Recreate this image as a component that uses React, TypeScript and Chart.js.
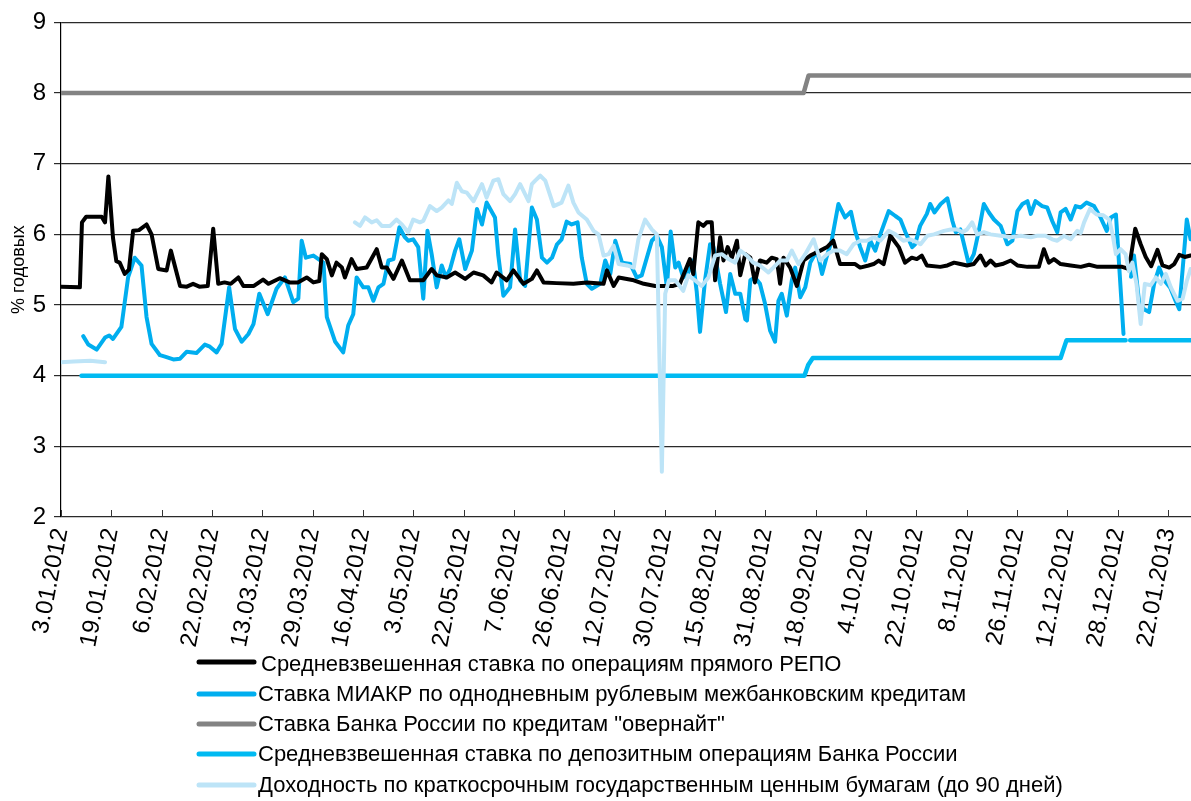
import React, { useEffect, useRef } from 'react';
import { Chart, registerables } from 'chart.js';
Chart.register(...registerables);

// X axis: trading-day index; a labelled tick every 12 trading days
const tickLabels = [
  '3.01.2012', '19.01.2012', '6.02.2012', '22.02.2012', '13.03.2012', '29.03.2012',
  '16.04.2012', '3.05.2012', '22.05.2012', '7.06.2012', '26.06.2012', '12.07.2012',
  '30.07.2012', '15.08.2012', '31.08.2012', '18.09.2012', '4.10.2012', '22.10.2012',
  '8.11.2012', '26.11.2012', '12.12.2012', '28.12.2012', '22.01.2013',
];
const TICK_STEP = 12;
const X_MAX = 269.5;

const seriesLabels = [
  'Средневзвешенная ставка по операциям прямого РЕПО',
  'Ставка МИАКР по однодневным рублевым межбанковским кредитам',
  'Ставка Банка России по кредитам "овернайт"',
  'Средневзвешенная ставка по депозитным операциям Банка России',
  'Доходность по краткосрочным государственным ценным бумагам (до 90 дней)',
];
const seriesColors = ['#000000', '#00AEEF', '#838383', '#00BAF2', '#BDE4F7'];
const seriesWidths = [4, 4, 4.5, 4.5, 4];

type P = [number, number | null];

const repo: P[] = [
  [0,5.26],[4.5,5.25],[5,6.17],[6,6.25],[9.7,6.25],[10.5,6.17],[11.3,6.82],[12.4,5.95],[13.2,5.62],[14,5.6],
  [15.2,5.44],[16.2,5.5],[17.2,6.05],[18.6,6.06],[20.4,6.14],[21.6,6.0],[23.2,5.51],[25.2,5.49],[26.2,5.77],[28.4,5.27],
  [30,5.26],[31.5,5.3],[33,5.26],[35,5.27],[36.3,6.08],[37.5,5.3],[39,5.32],[40.5,5.3],[42.3,5.39],[43.5,5.27],
  [46,5.27],[48.2,5.36],[49.5,5.3],[52.2,5.38],[54.5,5.32],[56.5,5.32],[58.6,5.39],[60.2,5.32],[61.6,5.34],[62.2,5.72],
  [63.4,5.65],[64.6,5.42],[65.7,5.6],[67,5.53],[67.7,5.39],[69.3,5.65],[70.5,5.51],[72.9,5.53],[75.3,5.79],[76.5,5.53],
  [77.7,5.53],[79.3,5.37],[81.3,5.63],[83.2,5.35],[86.4,5.35],[88.4,5.51],[89.6,5.42],[92,5.39],[94,5.46],[96.4,5.37],
  [98.4,5.46],[100.7,5.42],[102.7,5.32],[103.9,5.46],[106.3,5.35],[107.9,5.49],[110.3,5.3],[112.3,5.37],[113.5,5.49],[115.1,5.32],
  [118.2,5.31],[122.2,5.3],[125.4,5.32],[129.4,5.3],[130.2,5.49],[131.8,5.27],[133,5.39],[136.6,5.35],[139,5.3],[141.7,5.27],
  [143.3,5.27],[146,5.27],[147.6,5.3],[150,5.65],[150.8,5.44],[152,6.17],[153.2,6.12],[154,6.17],[155.2,6.17],[156,5.35],
  [157.2,5.96],[158,5.63],[159,5.82],[160,5.67],[161.2,5.91],[162,5.42],[163.2,5.72],[164.4,5.67],[165.5,5.32],[166.7,5.63],
  [168.3,5.6],[169.5,5.67],[170.7,5.65],[171.5,5.3],[172.3,5.67],[173.9,5.53],[175.5,5.27],[177.1,5.63],[178.7,5.7],[181.1,5.77],
  [182.7,5.82],[184.2,5.91],[185.8,5.58],[187.4,5.58],[189.4,5.58],[190.6,5.53],[192.6,5.56],[193.8,5.58],[195,5.63],[196.2,5.58],
  [197.8,5.98],[199.8,5.82],[201.3,5.6],[202.9,5.67],[204.1,5.65],[205.3,5.7],[206.5,5.56],[209.7,5.54],[211.4,5.56],[213,5.6],
  [214.5,5.58],[216.1,5.56],[217.7,5.58],[219.3,5.7],[220.5,5.56],[221.7,5.63],[222.9,5.56],[224.5,5.58],[226.5,5.63],[228.1,5.56],
  [230.5,5.54],[233.2,5.54],[234.4,5.79],[235.6,5.6],[236.8,5.65],[238.4,5.58],[240.8,5.56],[243.2,5.54],[245.2,5.57],[247.2,5.54],
  [251.5,5.54],[253.1,5.54],[254.7,5.51],[256.2,6.08],[257.5,5.86],[258.7,5.68],[260,5.55],[261.5,5.78],[262.7,5.56],[264.3,5.53],
  [265.5,5.58],[266.7,5.71],[268,5.68],[269.4,5.7],
];

const miacr: P[] = [
  [5.3,4.56],[6.5,4.44],[8.5,4.37],[10.5,4.54],[11.5,4.57],[12.4,4.52],[14.4,4.69],[16,5.39],[17.6,5.67],[19.2,5.56],
  [20.4,4.83],[21.6,4.45],[23.6,4.29],[24.8,4.27],[26.8,4.23],[28.4,4.24],[30,4.34],[32.3,4.32],[34.3,4.44],[35.5,4.41],
  [37.1,4.33],[38.3,4.45],[40.1,5.25],[41.5,4.66],[43.1,4.48],[44.7,4.59],[45.9,4.73],[47.3,5.16],[49.3,4.87],[51.4,5.23],
  [53.4,5.39],[55.4,5.04],[56.6,5.09],[57.4,5.91],[58.4,5.67],[60.2,5.7],[62.6,5.6],[63.4,4.83],[65.4,4.48],[67.3,4.33],
  [68.5,4.71],[69.7,4.87],[70.5,5.39],[72.1,5.25],[73.3,5.25],[74.5,5.06],[75.7,5.25],[76.9,5.3],[78.1,5.63],[79.3,5.65],
  [80.7,6.1],[82,5.96],[82.8,5.91],[84,5.93],[85.2,5.82],[86.4,5.09],[87.4,6.05],[88.4,5.72],[89.6,5.25],[90.8,5.56],
  [91.8,5.39],[92.8,5.51],[94,5.77],[95,5.93],[96.4,5.51],[98,5.77],[99.2,6.36],[100.4,6.14],[101.5,6.45],[103.5,6.24],
  [104.3,5.7],[105.5,5.13],[107.1,5.25],[108.3,6.07],[109.5,5.35],[110.7,5.27],[112.3,6.38],[113.5,6.21],[114.7,5.67],[115.9,5.6],
  [117.1,5.67],[118.3,5.86],[119.4,5.93],[120.6,6.18],[121.8,6.14],[123.2,6.17],[124.2,5.67],[125.4,5.3],[126.6,5.23],[128.6,5.3],
  [129.8,5.63],[131,5.44],[132.2,5.91],[133.8,5.6],[135.8,5.58],[137.3,5.39],[138.5,5.42],[140.9,5.91],[142.1,5.98],[143.3,5.82],
  [144.5,5.25],[145.4,6.04],[146.5,5.53],[147.3,5.6],[148.4,5.39],[149.6,5.46],[150.7,5.63],[151.6,5.2],[152.4,4.62],[153.6,5.35],
  [154.8,5.86],[155.6,5.82],[157.2,5.3],[158.6,4.9],[159.6,5.44],[160.8,5.16],[162,5.16],[163.2,4.8],[163.6,4.78],[164.4,5.35],
  [165.5,5.39],[166.7,5.3],[167.9,5.02],[169.1,4.64],[170.3,4.48],[171.1,5.06],[171.9,5.16],[173.1,4.85],[174.3,5.35],[175.1,5.53],
  [176.3,5.11],[177.5,5.25],[178.7,5.6],[180.3,5.77],[181.5,5.44],[182.7,5.7],[183.8,5.91],[185.4,6.43],[187,6.24],[188.4,6.32],
  [189.4,6.05],[190.6,5.82],[191.8,5.63],[193,5.91],[194.2,5.77],[195.4,6.0],[197.4,6.33],[199,6.26],[200.2,6.21],[201.4,6.03],
  [203,5.82],[203.7,5.86],[204.9,6.12],[206.5,6.29],[207.3,6.43],[208.3,6.31],[209.8,6.43],[211.4,6.51],[212.6,6.19],[213.4,6.03],
  [214.5,6.07],[216.5,5.58],[217.7,5.72],[218.9,6.05],[220.1,6.43],[221.3,6.31],[222.5,6.21],[224.1,6.12],[225.7,5.86],[226.9,5.91],
  [228.1,6.33],[229.3,6.43],[230.5,6.47],[231.3,6.29],[232.4,6.47],[234,6.4],[235.2,6.38],[236.4,6.19],[237.6,6.03],[238.4,6.31],
  [239.6,6.36],[240.8,6.21],[242,6.4],[243.2,6.38],[244.6,6.45],[246.4,6.4],[248,6.23],[249.4,6.05],[250.4,6.24],[251.6,6.28],
  [252.4,5.53],[253.4,4.59],[254.3,null],[255.2,5.4],[255.9,5.7],[257.1,5.05],[258.3,4.94],[259.5,4.9],[260.7,5.3],[261.9,5.53],
  [263.1,5.35],[264.5,5.25],[265.8,5.06],[266.7,4.94],[267.5,5.5],[268.5,6.21],[269.4,5.93],
];

const overnight: P[] = [[0,8.0],[177.1,8.0],[178.3,8.25],[269.5,8.25]];

const deposit: P[] = [
  [4.9,4.0],[177.3,4.0],[178.2,4.15],[179.3,4.25],[238.4,4.25],[239.8,4.5],[253.9,4.5],[254.5,null],[255,4.5],[269.5,4.5],
];

const bonds: P[] = [
  [0,4.19],[3,4.2],[7,4.21],[10.5,4.19],[40,null],
  [70.1,6.17],[71.3,6.12],[72.5,6.24],[74.1,6.17],[75.3,6.2],[76.5,6.12],[78.5,6.12],[80,6.21],[81.3,6.14],[82.8,6.03],
  [84,6.21],[85.6,6.17],[86.4,6.19],[88,6.4],[89.6,6.33],[90.8,6.38],[92.4,6.48],[93.2,6.43],[94.4,6.73],[95.6,6.61],
  [96.8,6.59],[98.4,6.47],[100.4,6.71],[101.5,6.52],[103.1,6.76],[104.3,6.78],[105.5,6.57],[107.1,6.47],[108.3,6.57],[109.5,6.71],
  [111.5,6.47],[112.3,6.71],[113.1,6.76],[114.3,6.83],[115.5,6.76],[117.5,6.4],[119.4,6.45],[121,6.69],[122.2,6.45],[123.4,6.31],
  [125.4,6.21],[127,6.05],[128.2,6.0],[129.4,5.7],[130.6,5.72],[131.8,5.84],[133,5.58],[135,5.56],[136.6,5.53],[137.7,5.93],
  [139.3,6.21],[140.9,6.07],[142.1,6.0],[143.3,2.64],[144.1,5.16],[145,5.35],[146.5,5.35],[148.4,5.2],[149.6,5.42],[151.2,5.35],
  [152.8,5.27],[154.4,5.39],[156,5.7],[157.6,5.72],[159.2,5.65],[160.8,5.6],[162,5.77],[163.6,5.7],[165.1,5.6],[166.7,5.56],
  [168.7,5.46],[169.9,5.53],[171.5,5.63],[173.1,5.63],[174.3,5.77],[175.9,5.58],[177.5,5.72],[179.5,5.93],[181.1,5.63],[182.7,5.72],
  [184.2,5.77],[185.8,5.77],[187.4,5.72],[189,5.86],[190.6,5.91],[192.2,5.91],[193.8,5.96],[195.4,5.91],[197.4,6.05],[199,6.0],
  [200.9,5.91],[202.5,5.93],[204.1,5.89],[205,5.86],[206.6,5.98],[208.2,6.0],[210.6,6.05],[212.2,6.07],[213.8,6.07],[215,6.03],
  [216.1,6.07],[217.3,6.17],[218.5,6.0],[220.1,6.03],[221.7,6.0],[224.1,5.98],[226.5,5.96],[228.9,5.98],[231.3,5.96],[232.8,5.98],
  [234.8,5.98],[236.4,5.93],[237.6,5.91],[239.2,5.98],[240.8,5.93],[242.4,6.05],[243.2,6.02],[244,6.17],[245.4,6.36],[247,6.28],
  [248.6,6.27],[250,6.21],[250.8,6.0],[251.6,5.72],[252.7,5.79],[253.9,5.72],[254.7,5.48],[255.5,5.6],[256.5,5.3],[257.5,4.73],
  [258.5,5.3],[259.9,5.28],[261.1,5.39],[262.3,5.3],[263.5,5.44],[264.7,5.25],[266.3,5.06],[267.5,5.09],[268.5,5.34],[269.4,5.51],
];

const seriesData: P[][] = [repo, miacr, overnight, deposit, bonds];
const drawOrder = [1, 2, 4, 3, 0]; // lower = drawn on top

const FONT = '"Liberation Sans", Arial, Helvetica, sans-serif';

const decorPlugin = {
  id: 'decor',
  afterDraw(chart: any) {
    const ctx = chart.ctx as CanvasRenderingContext2D;
    const xs = chart.scales.x;
    const area = chart.chartArea;
    ctx.save();
    // inward x tick marks
    ctx.strokeStyle = '#333';
    ctx.lineWidth = 1;
    xs.ticks.forEach((t: any) => {
      const px = Math.round(xs.getPixelForValue(t.value)) + 0.5;
      ctx.beginPath();
      ctx.moveTo(px, area.bottom);
      ctx.lineTo(px, area.bottom - 7);
      ctx.stroke();
    });
    // legend
    const lineY = [662, 694, 724, 754, 785];
    const textY = [665, 695, 725, 755, 786];
    ctx.font = `22px ${FONT}`;
    ctx.textBaseline = 'middle';
    ctx.textAlign = 'left';
    chart.data.datasets.forEach((ds: any, k: number) => {
      ctx.strokeStyle = ds.borderColor;
      ctx.lineWidth = 5;
      ctx.lineCap = 'round';
      ctx.beginPath();
      ctx.moveTo(199, lineY[k]);
      ctx.lineTo(254, lineY[k]);
      ctx.stroke();
      ctx.fillStyle = '#000';
      ctx.fillText(ds.label, k === 0 ? 261 : 258, textY[k]);
    });
    ctx.restore();
  },
};

export default function App() {
  const ref = useRef<HTMLCanvasElement | null>(null);
  useEffect(() => {
    if (!ref.current) return;
    Chart.defaults.font.family = FONT;
    const chart = new Chart(ref.current, {
      type: 'line',
      data: {
        datasets: seriesLabels.map((label, k) => ({
          label,
          data: seriesData[k].map(([x, y]) => ({ x, y })),
          borderColor: seriesColors[k],
          backgroundColor: seriesColors[k],
          borderWidth: seriesWidths[k],
          pointRadius: 0,
          tension: 0,
          spanGaps: false,
          borderJoinStyle: 'round',
          borderCapStyle: 'round',
          order: drawOrder[k],
        })) as any,
      },
      options: {
        responsive: false,
        animation: false,
        layout: { padding: { top: 21, left: 0, right: 0, bottom: 0 } },
        plugins: { legend: { display: false }, tooltip: { enabled: false }, title: { display: false } },
        scales: {
          x: {
            type: 'linear',
            min: 0,
            max: X_MAX,
            grid: { display: false, drawTicks: false },
            border: { display: false },
            ticks: {
              autoSkip: false,
              minRotation: 79,
              maxRotation: 79,
              padding: 9,
              color: '#000',
              font: { size: 24 },
              callback: (v: any) => tickLabels[Math.round(Number(v) / TICK_STEP)] ?? '',
            },
            afterBuildTicks: (s: any) => {
              s.ticks = tickLabels.map((_, k) => ({ value: k * TICK_STEP }));
            },
            afterFit: (s: any) => {
              s.height = 284;
              s.paddingLeft = 0;
              s.paddingRight = 0;
            },
          },
          y: {
            min: 2,
            max: 9,
            ticks: { stepSize: 1, padding: 8, color: '#000', font: { size: 24 } },
            grid: { color: '#2a2a2a', lineWidth: 1.2, tickLength: 7 },
            border: { display: true, color: '#000', width: 1.2 },
            title: {
              display: true,
              text: '% годовых',
              color: '#000',
              font: { size: 18 },
              padding: { top: 8, bottom: 0 },
            },
            afterFit: (s: any) => {
              s.width = 61;
            },
          },
        },
      } as any,
      plugins: [decorPlugin],
    });
    return () => chart.destroy();
  }, []);
  return (
    <div style={{ position: 'absolute', left: 0, top: 0, width: 1191, height: 801, background: '#fff' }}>
      <canvas ref={ref} width={1191} height={801} style={{ display: 'block', width: 1191, height: 801 }} />
    </div>
  );
}
